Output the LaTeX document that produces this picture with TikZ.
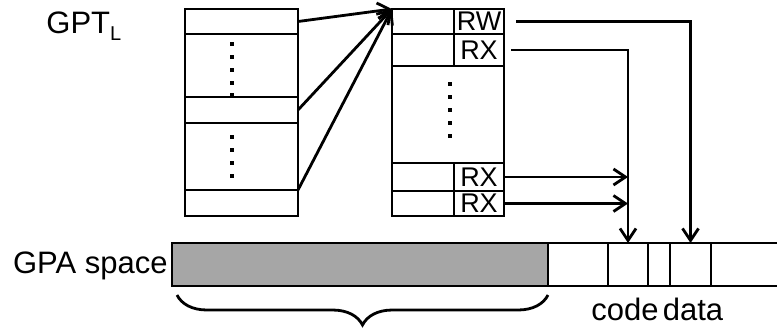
\documentclass[tikz,border=0pt]{standalone}
\usepackage{fontspec}
\setmainfont{Liberation Sans}
\usetikzlibrary{arrows.meta,positioning,decorations.pathreplacing}

\begin{document}
\begin{tikzpicture}[x=1pt,y=-1pt,line width=2.8pt,
  every node/.style={font=\fontsize{31}{34}\selectfont,inner sep=0pt},
  tab/.style={draw,rectangle,anchor=north west,outer sep=0pt},
  perm/.style={tab,fill=white,minimum width=50pt,font=\fontsize{27}{28}\selectfont},
  arr/.style={-{Straight Barb[length=12pt,width=16pt]}}]
\useasboundingbox (0,0) rectangle (777,327);
% guest page table, left
\node[tab,minimum width=113pt,minimum height=207pt] (ltab) at (185,9) {};
\node[tab,minimum width=113pt,minimum height=25pt] (lrow1) at (185,9) {};
\node[tab,minimum width=113pt,minimum height=26pt] (lrow2) at (185,97) {};
\node[tab,minimum width=113pt,minimum height=26pt] (lrow3) at (185,190) {};
\foreach \y in {44,57,70,83,95,137,150,163,176} \fill (232,\y) +(-1.7,-1.7) rectangle +(1.7,1.7);
% guest page table, right with permissions
\node[tab,minimum width=112pt,minimum height=207pt] (mtab) at (392,9) {};
\foreach \y/\h/\n/\t in {9/25/rw/RW,34/32/rx1/RX,163/28/rx2/RX,191/25/rx3/RX} {
  \node[tab,minimum width=112pt,minimum height=\h pt] (row\n) at (392,\y) {};
  \node[perm,minimum height=\h pt] (\n) at (454,\y) {\t};
}
\foreach \y in {84,97,110,123,136} \fill (450,\y) +(-1.7,-1.7) rectangle +(1.7,1.7);
% GPA space bar
\node[tab,fill=gray!70,minimum width=376pt,minimum height=43pt] (gpa) at (172,243) {};
\node[tab,minimum width=60pt,minimum height=43pt] (free) at (548,243) {};
\node[tab,minimum width=40pt,minimum height=43pt] (code) at (608,243) {};
\node[tab,minimum width=22pt,minimum height=43pt] (gap) at (648,243) {};
\node[tab,minimum width=41pt,minimum height=43pt] (data) at (670,243) {};
\coordinate (gpaend) at (777,243);
\draw (data.north east) -- (data.north east -| gpaend);
\draw (data.south east) -- (data.south east -| gpaend);
% labels
\node[anchor=base west] (gptl) at (45,33) {GPT\raisebox{-7pt}{\fontsize{20}{20}\selectfont L}};
\node[anchor=base east] (gpalbl) at (169,273) {GPA space};
\node[anchor=base] (codelbl) at (625,320) {code};
\node[anchor=base] (datalbl) at (693,320) {data};
% arrows
\foreach \src in {lrow1.east,lrow2.east,lrow3.north east} \draw[arr] (\src) -- (mtab.north west);
\draw[arr] ([xshift=12pt]rw.east) -| (data.north);
\draw[arr] ([xshift=7pt]rx1.east) -| (code.north);
\draw[arr] (rx2.east) -- (rx2.east -| code.north);
\draw[arr] (rx3.east) -- (rx3.east -| code.north);
% brace under the grey part
\coordinate (bl) at (177,295);
\coordinate (br) at (548,295);
\draw[decorate,decoration={brace,mirror,amplitude=30pt}] (bl) -- (br);
\end{tikzpicture}
\end{document}
